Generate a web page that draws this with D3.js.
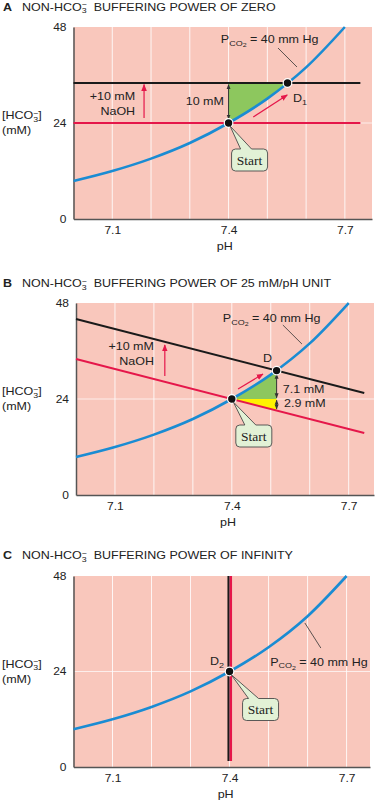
<!DOCTYPE html>
<html>
<head>
<meta charset="utf-8">
<script src="https://cdn.jsdelivr.net/npm/d3@7"></script>
<style>
  body { margin: 0; background: #fff; }
</style>
</head>
<body>
<svg id="chart" width="375" height="800"></svg>
<script>
/// DATA ///
const phGrid = [7.1, 7.2, 7.3, 7.4, 7.5, 7.6, 7.7];
const phTicks = [7.1, 7.4, 7.7];
const hco3Ticks = [0, 24, 48];

// PCO2 = 40 mm Hg isopleth
const isoPh = [7.0, 7.1, 7.2, 7.3, 7.4, 7.5, 7.6, 7.7];
const isoHco3 = [9.5, 12.0, 15.1, 19.0, 24.0, 30.1, 37.9, 48.0];

// starting point
const startPh = 7.4;
const startHco3 = 24;

// A: zero non-HCO3 buffering
const bufA_ph = [7.0, 7.74];
const bufA_before = [24, 24];
const bufA_after = [34, 34];
const endA = [7.552, 34];     // D1

// B: 25 mM/pH unit
const bufB_ph = [7.0, 7.74];
const bufB_before = [34, 15.5];
const bufB_after = [44, 25.5];
const endB = [7.515, 31.1];   // D
const endB_onBefore = 21.1;   // red line under D (24 - 2.9)

// C: infinite buffering
const bufC_ph = [7.4, 7.4];
const bufC_hco3 = [1.5, 48];

/// STYLE ///
const bgColour = "#f9c7bc";
const blue = "#1a8cd3";
const red = "#e5174a";
const black = "#1a1a1a";
const green = "#8dc75e";
const yellow = "#fff200";
const sans = "'Liberation Sans', Arial, Helvetica, sans-serif";
const serif = "'Liberation Serif', 'Times New Roman', serif";
const squash = 0.85; // source text is a bit flattened

const svg = d3.select("#chart");
const defs = svg.append("defs");

function marker(id, colour, size) {
    defs.append("marker")
        .attr("id", id)
        .attr("viewBox", "0 0 10 10")
        .attr("refX", 9).attr("refY", 5)
        .attr("markerUnits", "userSpaceOnUse")
        .attr("markerWidth", size).attr("markerHeight", size)
        .attr("orient", "auto-start-reverse")
        .append("path")
        .attr("d", "M0,1 L10,5 L0,9 Z")
        .attr("fill", colour);
}
marker("head-red", red, 7);
marker("head-black", "#333", 5);

function addText(g, x, y, { size = 12.5, anchor = "start", weight = "normal", family = sans } = {}) {
    return g.append("text")
        .attr("transform", `translate(${x},${y}) scale(1,${squash})`)
        .attr("text-anchor", anchor)
        .attr("font-family", family)
        .attr("font-size", size)
        .attr("font-weight", weight)
        .attr("fill", "#222");
}

// "HCO3-" with stacked sub 3 / super minus; next tspan must use dy = size * 0.3
function hco3(t, size) {
    const s = size * 0.7;
    t.append("tspan").text("HCO");
    t.append("tspan").attr("font-size", s).attr("dy", size * 0.25).text("3");
    t.append("tspan").attr("font-size", s).attr("dx", -s * 0.56).attr("dy", -size * 0.55).text("\u2212");
}

function pco2Label(g, x, y) {
    const t = addText(g, x, y);
    t.append("tspan").text("P");
    t.append("tspan").attr("font-size", 9).attr("dy", 3).text("CO");
    t.append("tspan").attr("font-size", 7).attr("dy", 1.5).text("2");
    t.append("tspan").attr("font-size", 12.5).attr("dy", -4.5).text(" = 40 mm Hg");
}

function arrow(g, x1, y1, x2, y2, colour, width, head, both = false) {
    const l = g.append("line")
        .attr("x1", x1).attr("y1", y1).attr("x2", x2).attr("y2", y2)
        .attr("stroke", colour).attr("stroke-width", width)
        .attr("marker-end", `url(#${head})`);
    if (both) l.attr("marker-start", `url(#${head})`);
}

function dot(g, cx, cy) {
    g.append("circle")
        .attr("cx", cx).attr("cy", cy).attr("r", 4.3)
        .attr("fill", "#111").attr("stroke", "#fff").attr("stroke-width", 1.2);
}

// "Start" speech box pointing at the dot
function callout(g, cx, cy, dx, dy, tail) {
    const w = 36, h = 22, r = 4;
    const x0 = cx + dx, y0 = cy + dy;
    const path = `M${x0 + r},${y0} L${x0 + tail[0]},${y0} L${cx + 1.5},${cy + 3} L${x0 + tail[1]},${y0}` +
        ` L${x0 + w - r},${y0} A${r},${r} 0 0 1 ${x0 + w},${y0 + r} L${x0 + w},${y0 + h - r}` +
        ` A${r},${r} 0 0 1 ${x0 + w - r},${y0 + h} L${x0 + r},${y0 + h} A${r},${r} 0 0 1 ${x0},${y0 + h - r}` +
        ` L${x0},${y0 + r} A${r},${r} 0 0 1 ${x0 + r},${y0} Z`;
    g.append("path").attr("d", path)
        .attr("fill", "#e2f1d6").attr("stroke", "#4a4a4a").attr("stroke-width", 0.9);
    g.append("text")
        .attr("x", x0 + w / 2).attr("y", y0 + h / 2 + 4.5)
        .attr("text-anchor", "middle")
        .attr("font-family", serif).attr("font-size", 13.5)
        .attr("fill", "#222")
        .text("Start");
}

/// PANEL BASE (title, background, grid, axes) ///
const isoPts = d3.zip(isoPh, isoHco3);

function basePanel(p) {
    const g = svg.append("g").attr("class", "panel-" + p.key);
    const x = d3.scaleLinear().domain(p.phDomain).range([p.left, p.right]);
    const y = d3.scaleLinear().domain([0, 48]).range([p.bottom, p.top]);

    // Title
    addText(g, 3, p.titleY, { weight: "bold" }).text(p.key);
    const t = addText(g, 22, p.titleY);
    t.append("tspan").text("NON-");
    hco3(t, 12.5);
    t.append("tspan").attr("dx", 7).attr("dy", 12.5 * 0.3).text(p.title);

    // Plot background + grid
    g.append("rect")
        .attr("x", p.left).attr("y", p.top)
        .attr("width", p.right - p.left).attr("height", p.bottom - p.top)
        .attr("fill", bgColour);

    g.selectAll(".vgrid")
        .data(phGrid)
        .join("line")
        .attr("class", "vgrid")
        .attr("x1", d => x(d)).attr("x2", d => x(d))
        .attr("y1", p.top).attr("y2", p.bottom)
        .attr("stroke", "#fff").attr("stroke-width", 1).attr("opacity", 0.85);

    g.append("line") // faint line at 24
        .attr("x1", p.left).attr("x2", p.right)
        .attr("y1", y(24)).attr("y2", y(24))
        .attr("stroke", "#fff").attr("stroke-width", 1).attr("opacity", 0.7);

    // Axes
    const xAxis = g.append("g")
        .attr("transform", `translate(0,${p.bottom})`)
        .call(d3.axisBottom(x).tickValues(phTicks).tickSize(0).tickSizeOuter(0).tickPadding(9.5).tickFormat(d3.format(".1f")));
    const yAxis = g.append("g")
        .attr("transform", `translate(${p.left},0)`)
        .call(d3.axisLeft(y).tickValues(hco3Ticks).tickSize(0).tickSizeOuter(0).tickPadding(7));

    [xAxis, yAxis].forEach(a => {
        a.select(".domain").attr("stroke", "#555").attr("stroke-width", 1.5);
        a.selectAll("text")
            .attr("font-family", sans).attr("font-size", 12)
            .attr("fill", "#222")
            .attr("transform", `scale(1,${squash})`);
    });

    // Axis labels
    addText(g, x(7.39), p.bottom + 31, { anchor: "middle" }).text("pH");
    const yl = addText(g, 2, y(24) - 4);
    yl.append("tspan").text("[");
    hco3(yl, 12.5);
    yl.append("tspan").attr("dy", 12.5 * 0.3).text("]");
    addText(g, 2, y(24) + 11).text("(mM)");

    // Isopleth + clip regions
    const isoLine = d3.line().x(d => x(d[0])).y(d => y(d[1])).curve(d3.curveMonotoneX);
    const isoPath = isoLine(isoPts);
    defs.append("clipPath").attr("id", "above-" + p.key)
        .append("path")
        .attr("d", `${isoPath}L${p.right},${p.top - 40}L${p.left},${p.top - 40}Z`);
    defs.append("clipPath").attr("id", "below-" + p.key)
        .append("path")
        .attr("d", `${isoPath}L${p.right},${p.top}L${p.right},${p.bottom}L${p.left},${p.bottom}Z`);

    const bufLine = d3.line().x(d => x(d[0])).y(d => y(d[1]));
    const drawIso = () => g.append("path")
        .attr("d", isoPath)
        .attr("fill", "none").attr("stroke", blue).attr("stroke-width", 2.6);

    return { g, x, y, bufLine, drawIso };
}

/// PANEL A ///
{
    const { g, x, y, bufLine, drawIso } = basePanel({
        key: "A", title: "BUFFERING POWER OF ZERO", titleY: 10.5,
        phDomain: [7.0, 7.77], left: 73.5, right: 372, top: 27, bottom: 219
    });

    g.append("rect") // green wedge
        .attr("x", x(startPh)).attr("y", y(endA[1]))
        .attr("width", x(endA[0]) - x(startPh))
        .attr("height", y(startHco3) - y(endA[1]))
        .attr("fill", green)
        .attr("clip-path", "url(#above-A)");

    g.append("path").attr("d", bufLine(d3.zip(bufA_ph, bufA_before)))
        .attr("stroke", red).attr("stroke-width", 2).attr("fill", "none");
    g.append("path").attr("d", bufLine(d3.zip(bufA_ph, bufA_after)))
        .attr("stroke", black).attr("stroke-width", 2).attr("fill", "none");
    drawIso();

    arrow(g, x(7.4), y(25), x(7.4), y(33.6), "#333", 1, "head-black", true);
    arrow(g, x(7.182), y(25.25), x(7.182), y(33.6), red, 1.2, "head-red");
    arrow(g, x(7.4637), y(25.5), x(7.5514), y(31), red, 1.2, "head-red");

    g.append("line")
        .attr("x1", x(7.5275)).attr("y1", y(42.75)).attr("x2", x(7.5765)).attr("y2", y(38))
        .attr("stroke", "#333").attr("stroke-width", 0.8);
    pco2Label(g, x(7.38), y(44));

    addText(g, x(7.159), y(29.75), { anchor: "end" }).text("+10 mM");
    addText(g, x(7.159), y(26), { anchor: "end" }).text("NaOH");
    addText(g, x(7.388), y(28.5), { anchor: "end" }).text("10 mM");
    const d1 = addText(g, x(7.566), y(29.25));
    d1.append("tspan").text("D");
    d1.append("tspan").attr("font-size", 9).attr("dy", 3).text("1");

    dot(g, x(endA[0]), y(endA[1]));
    dot(g, x(startPh), y(startHco3));
    callout(g, x(startPh), y(startHco3), 3, 26, [9, 20]);
}

/// PANEL B ///
{
    const { g, x, y, bufLine, drawIso } = basePanel({
        key: "B", title: "BUFFERING POWER OF 25 mM/pH UNIT", titleY: 287,
        phDomain: [7.0, 7.765], left: 76, right: 374, top: 303, bottom: 495
    });

    g.append("rect") // green wedge
        .attr("x", x(startPh)).attr("y", y(endB[1]))
        .attr("width", x(endB[0]) - x(startPh))
        .attr("height", y(startHco3) - y(endB[1]))
        .attr("fill", green)
        .attr("clip-path", "url(#below-B)");

    g.append("path") // yellow wedge
        .attr("d", bufLine([[startPh, startHco3], [endB[0], startHco3], [endB[0], endB_onBefore]]) + "Z")
        .attr("fill", yellow);

    g.append("path").attr("d", bufLine(d3.zip(bufB_ph, bufB_before)))
        .attr("stroke", red).attr("stroke-width", 2).attr("fill", "none");
    g.append("path").attr("d", bufLine(d3.zip(bufB_ph, bufB_after)))
        .attr("stroke", black).attr("stroke-width", 2).attr("fill", "none");
    drawIso();

    arrow(g, x(endB[0]), y(24.3), x(endB[0]), y(30.2), "#333", 1, "head-black", true);
    arrow(g, x(endB[0]), y(21.5), x(endB[0]), y(23.7), "#333", 1, "head-black", true);
    arrow(g, x(7.228), y(29.75), x(7.228), y(37.5), red, 1.2, "head-red");
    arrow(g, x(7.416), y(26.5), x(7.48), y(30.25), red, 1.2, "head-red");

    g.append("line")
        .attr("x1", x(7.531)).attr("y1", y(42.5)).attr("x2", x(7.58)).attr("y2", y(37.75))
        .attr("stroke", "#333").attr("stroke-width", 0.8);
    pco2Label(g, x(7.377), y(43.25));

    addText(g, x(7.2), y(36.25), { anchor: "end" }).text("+10 mM");
    addText(g, x(7.2), y(32.5), { anchor: "end" }).text("NaOH");
    addText(g, x(7.531), y(25.5)).text("7.1 mM");
    addText(g, x(7.534), y(22)).text("2.9 mM");
    addText(g, x(7.48), y(33.25)).text("D");

    dot(g, x(endB[0]), y(endB[1]));
    dot(g, x(startPh), y(startHco3));
    callout(g, x(startPh), y(startHco3), 4, 26, [9, 20]);
}

/// PANEL C ///
{
    const { g, x, y, bufLine, drawIso } = basePanel({
        key: "C", title: "BUFFERING POWER OF INFINITY", titleY: 559,
        phDomain: [7.0, 7.76], left: 73.5, right: 370, top: 576, bottom: 767
    });

    const vert = d3.zip(bufC_ph, bufC_hco3);
    g.append("path").attr("d", bufLine(vert))
        .attr("transform", "translate(-1,0)")
        .attr("stroke", black).attr("stroke-width", 2.2).attr("fill", "none");
    g.append("path").attr("d", bufLine(vert))
        .attr("transform", "translate(1.3,0)")
        .attr("stroke", red).attr("stroke-width", 2.4).attr("fill", "none");
    drawIso();

    g.append("line")
        .attr("x1", x(7.593)).attr("y1", y(36.2)).attr("x2", x(7.634)).attr("y2", y(29.9))
        .attr("stroke", "#333").attr("stroke-width", 0.8);
    pco2Label(g, x(7.504), y(25.4));

    const d2 = addText(g, x(7.35), y(25.6));
    d2.append("tspan").text("D");
    d2.append("tspan").attr("font-size", 9).attr("dy", 3).text("2");

    dot(g, x(startPh), y(startHco3));
    callout(g, x(startPh), y(startHco3), 13, 27, [6, 16]);
}
</script>
</body>
</html>
